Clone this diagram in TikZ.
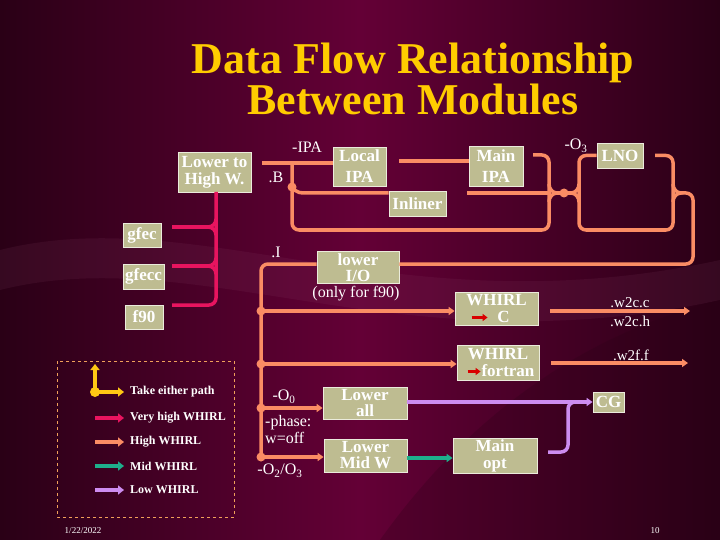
\documentclass[tikz,border=0pt]{standalone}
\usepackage{fontspec}
\setmainfont{Liberation Serif}
\usetikzlibrary{arrows.meta,calc}
\definecolor{bgmain}{RGB}{100,0,54}
\definecolor{bgdark}{RGB}{42,0,22}
\definecolor{titlecol}{RGB}{255,204,0}
\definecolor{boxfill}{RGB}{190,188,145}
\definecolor{boxline}{RGB}{235,235,220}
\definecolor{hiw}{RGB}{250,140,100}
\definecolor{vhw}{RGB}{232,20,95}
\definecolor{mdw}{RGB}{30,175,140}
\definecolor{loww}{RGB}{205,140,240}
\definecolor{either}{RGB}{255,200,20}
\definecolor{legline}{RGB}{240,160,90}
\newcommand{\fsz}[2]{\fontsize{#1}{#2}\selectfont}
\tikzset{
  box/.style={draw=boxline, line width=0.8pt, fill=boxfill, text=white,
    font=\fsz{17}{17}\bfseries, align=center, inner sep=0pt},
  lab/.style={text=white, font=\fsz{16}{16}, inner sep=0pt},
  leg/.style={text=white, font=\fsz{12}{12}\bfseries, inner sep=0pt, anchor=west},
  hw/.style={draw=hiw, line width=3.5pt, rounded corners=7pt},
  vh/.style={draw=vhw, line width=3.5pt, rounded corners=7pt},
  mw/.style={draw=mdw, line width=3.5pt},
  lw/.style={draw=loww, line width=3.5pt, rounded corners=7pt},
  tip/.style={-{Triangle[length=6pt,width=8pt]}},
  dot/.style={circle, fill=hiw, inner sep=0pt, minimum size=9pt},
}
\begin{document}
\begin{tikzpicture}[x=1pt,y=-1pt]
\useasboundingbox (0,0) rectangle (720,540);
\shade[left color=bgdark, right color=bgdark, middle color=bgmain] (0,0) rectangle (720,540);
% faint background bands
\fill[bgmain!70!white, opacity=0.12] (0,250) .. controls (200,200) and (400,330) .. (720,260) -- (720,300) .. controls (400,370) and (200,240) .. (0,290) -- cycle;
\fill[bgdark, opacity=0.25] (380,540) .. controls (480,400) and (600,330) .. (720,300) -- (720,540) -- cycle;

% title
\node[text=titlecol, font=\fsz{44}{44}\bfseries, anchor=base, inner sep=0pt] (t1) at (413,74) {Data Flow Relationship};
\node[text=titlecol, font=\fsz{44}{44}\bfseries, anchor=base, inner sep=0pt] (t2) at (413,115) {Between Modules};

% boxes
\node[box, minimum width=73pt, minimum height=40pt] (lth) at (214.5,172) {Lower to\\High W.};
\node[box, minimum width=53pt, minimum height=39pt, font=\fsz{17}{21}\bfseries] (lip) at (359.5,166.5) {Local\\IPA};
\node[box, minimum width=57pt, minimum height=25pt] (inl) at (417.5,203.5) {Inliner};
\node[box, minimum width=54pt, minimum height=40pt, font=\fsz{17}{21}\bfseries] (mip) at (496,166) {Main\\IPA};
\node[box, minimum width=46pt, minimum height=25pt] (lno) at (620,155.5) {LNO};
\node[box, minimum width=38pt, minimum height=24pt] (gfec) at (142,235) {gfec};
\node[box, minimum width=41pt, minimum height=25pt] (gfecc) at (143.5,276.5) {gfecc};
\node[box, minimum width=38pt, minimum height=24pt] (f90) at (144,317) {f90};
\node[box, minimum width=82pt, minimum height=32pt, font=\fsz{17}{16}\bfseries] (lio) at (358,267.5) {lower\\I/O};
\node[box, minimum width=83pt, minimum height=33pt] (whc) at (496.5,308.5) {WHIRL\\\hspace*{14pt}C};
\node[box, minimum width=82pt, minimum height=35pt] (whf) at (498,362.5) {WHIRL\\\hspace*{20pt}fortran};
\node[box, minimum width=84pt, minimum height=32pt, font=\fsz{17}{16}\bfseries] (lal) at (365,403) {Lower\\all};
\node[box, minimum width=83pt, minimum height=33pt, font=\fsz{17}{16}\bfseries] (lmw) at (365.5,455.5) {Lower\\Mid W};
\node[box, minimum width=84pt, minimum height=35pt] (mop) at (495,455.5) {Main\\opt};
\node[box, minimum width=31pt, minimum height=20pt] (cg) at (608.5,402) {CG};

% red arrows inside WHIRL boxes
\draw[red!85!black, line width=3pt, -{Triangle[length=5pt,width=7pt]}] ($(whc.west)+(17,9)$) -- ($(whc.west)+(33,9)$);
\draw[red!85!black, line width=3pt, -{Triangle[length=5pt,width=7pt]}] ($(whf.west)+(11,9)$) -- ($(whf.west)+(24,9)$);

% labels
\node[lab, anchor=base] (lipa) at (307,153) {-IPA};
\node[lab] (lb) at (276,177) {.B};
\node[lab] (li) at (276,252) {.I};
\node[lab] (lo3) at (576,146) {-O\textsubscript{3}};
\node[lab] (lonly) at (356,294) {(only for f90)};
\node[lab, font=\fsz{15}{15}] (w2cc) at (630,303) {.w2c.c};
\node[lab, font=\fsz{15}{15}] (w2ch) at (630,321) {.w2c.h};
\node[lab, font=\fsz{15}{15}] (w2ff) at (631,355) {.w2f.f};
\node[lab] (lo0) at (284,397) {-O\textsubscript{0}};
\node[lab, anchor=base west] (lph) at (265,426) {-phase:};
\node[lab, anchor=base west] (lwo) at (265,443) {w=off};
\node[lab] (lo23) at (280,471) {-O\textsubscript{2}/O\textsubscript{3}};

% ---------- very high WHIRL (magenta) ----------
\coordinate (vtop) at (216,192);
\coordinate (vbot) at (216,305);
\coordinate (vf90) at (172,305);
\draw[vh] (vtop) -- (vbot) -- (vf90);
\coordinate (vg1) at (172,227);
\coordinate (vg1t) at (208,227);
\draw[vh] (vg1) -- (vg1t);
\draw[vh, rounded corners=0pt] (216,219) to[out=-90,in=0] (vg1t) to[out=0,in=90] (216,235);
\coordinate (vg2) at (172,266);
\coordinate (vg2t) at (208,266);
\draw[vh] (vg2) -- (vg2t);
\draw[vh, rounded corners=0pt] (216,258) to[out=-90,in=0] (vg2t) to[out=0,in=90] (216,274);

% ---------- high WHIRL top loops ----------
\coordinate (ipa0) at (262,163);
\draw[hw] (ipa0) -- (lip.west |- ipa0);
\draw[hw] (292,163) -- (292,230) -- (549,230) -- (549,155) -- (533,155);
\draw[hw] (399,161) -- (mip.west |- 0,161);
\draw[hw, rounded corners=0pt] (292,184) to[out=-90,in=180] (303,193) -- (inl.west |- 0,193);
\node[dot] (dB) at (292,187) {};
\draw[hw, rounded corners=0pt] (467,193) -- (549,193);
% brace tips and joint
\draw[hw, rounded corners=0pt] (549,184) to[out=-90,in=180] (557,193) to[out=180,in=90] (549,202);
\draw[hw, rounded corners=0pt] (557,193) -- (571,193);
\node[dot] (dx) at (564,193) {};
\draw[hw, rounded corners=0pt] (579,184) to[out=-90,in=0] (571,193) to[out=0,in=90] (579,202);
% LNO loop
\draw[hw] (lno.west) -- (579,155.5) -- (579,230) -- (673,230) -- (673,155.5) -- (655,155.5);
\draw[hw, rounded corners=0pt] (673,184) to[out=-90,in=180] (681,193) to[out=180,in=90] (673,202);
\draw[hw] (681,193) -- (693,193) -- (693,264) -- (lio.east |- 0,264);
\draw[hw] (lio.west |- 0,264) -- (261,264) -- (261,457);

% branches from the vertical spine
\node[dot] (d1) at (261,311) {};
\node[dot] (d2) at (261,364) {};
\node[dot] (d3) at (261,408) {};
\node[dot] (d4) at (261,457) {};
\draw[hw, tip] (d1.center) -- (whc.west |- d1);
\draw[hw, tip] (d2.center) -- (whf.west |- d2);
\draw[hw, tip] (d3.center) -- (lal.west |- d3);
\draw[hw, tip] (d4.center) -- (lmw.west |- d4);
\coordinate (wco) at (550,311);
\coordinate (wce) at (690,311);
\draw[hw, tip] (wco) -- (wce);
\coordinate (wfo) at (551,363);
\coordinate (wfe) at (688,363);
\draw[hw, tip] (wfo) -- (wfe);

% mid and low WHIRL
\draw[mw, tip] (lmw.east |- 0,458) -- (mop.west |- 0,458);
\draw[lw, tip] (lal.east |- 0,402) -- (cg.west);
\draw[lw] (548,452) -- (568,452) -- (568,402) -- (582,402);

% ---------- legend ----------
\draw[legline, dashed, line width=0.8pt] (57,361) rectangle (234,517);
\draw[either, line width=4pt, -{Triangle[length=6pt,width=9pt]}] (95,392) -- (95,364);
\draw[either, line width=4pt, -{Triangle[length=6pt,width=9pt]}] (95,392) -- (124,392);
\fill[either] (95,392) circle (5pt);
\node[leg] (t0) at (130,392) {Take either path};
\draw[vhw, line width=4.5pt, -{Triangle[length=6pt,width=9pt]}] (95,418) -- (124,418);
\node[leg] (t1l) at (130,418) {Very high WHIRL};
\draw[hiw, line width=4.5pt, -{Triangle[length=6pt,width=9pt]}] (95,442) -- (124,442);
\node[leg] (t2l) at (130,442) {High WHIRL};
\draw[mdw, line width=4.5pt, -{Triangle[length=6pt,width=9pt]}] (95,466) -- (124,466);
\node[leg] (t3l) at (130,466) {Mid WHIRL};
\draw[loww, line width=4.5pt, -{Triangle[length=6pt,width=9pt]}] (95,490) -- (124,490);
\node[leg] (t4l) at (130,490) {Low WHIRL};

% footer
\node[text=white, font=\fsz{9}{9}, inner sep=0pt] (date) at (83,531) {1/22/2022};
\node[text=white, font=\fsz{9}{9}, inner sep=0pt] (pg) at (655,531) {10};
\end{tikzpicture}
\end{document}
